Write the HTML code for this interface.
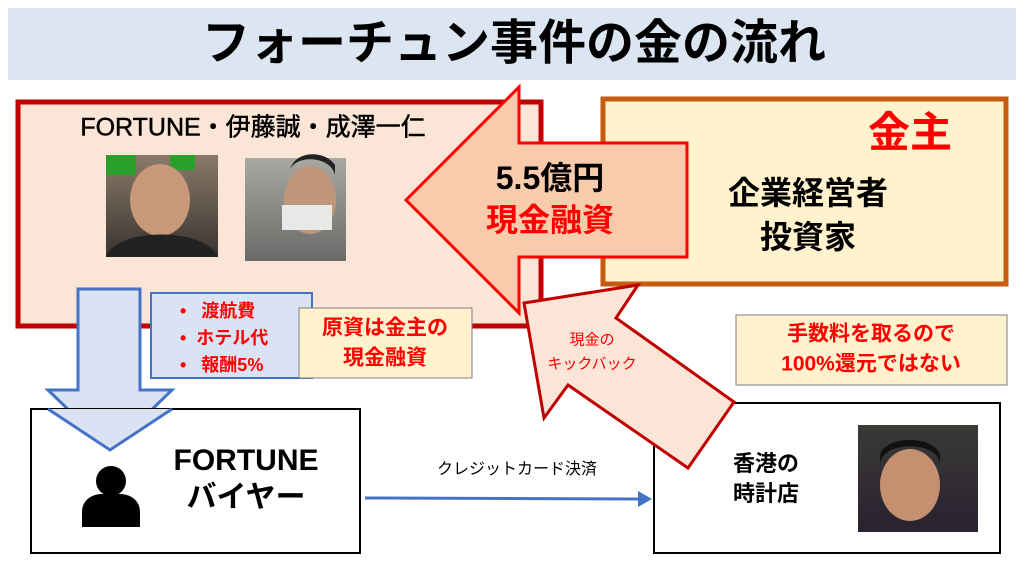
<!DOCTYPE html>
<html><head><meta charset="utf-8"><style>
body{margin:0;width:1024px;height:576px;position:relative;background:#fff;overflow:hidden;font-family:"Liberation Sans","Noto Sans CJK JP",sans-serif;}
.t{position:absolute;white-space:nowrap;line-height:1;font-weight:bold;}
.c{transform:translate(-50%,-50%);}
</style></head><body>
<svg width="1024" height="576" style="position:absolute;left:0;top:0">
<defs>
<linearGradient id="p1" x1="0" y1="0" x2="0" y2="1"><stop offset="0" stop-color="#8a7a68"/><stop offset="1" stop-color="#3a3430"/></linearGradient>
<linearGradient id="p2" x1="0" y1="0" x2="0" y2="1"><stop offset="0" stop-color="#a8a8a4"/><stop offset="1" stop-color="#6a6a68"/></linearGradient>
<linearGradient id="p3" x1="0" y1="0" x2="0" y2="1"><stop offset="0" stop-color="#3a3a36"/><stop offset="1" stop-color="#2a2230"/></linearGradient>
</defs>
<rect x="8" y="8" width="1008" height="72" fill="#dce6f2"/>
<rect x="18" y="102" width="523" height="224" fill="#fbe5d6" stroke="#c00000" stroke-width="5"/>
<rect x="603" y="99" width="403" height="185" fill="#fff2cc" stroke="#c55a11" stroke-width="5"/>
<rect x="106" y="155" width="112" height="102" fill="url(#p1)"/>
<path d="M106 155h30v20h-30zM170 155h25v15h-25z" fill="#2aa02a"/>
<ellipse cx="160" cy="200" rx="30" ry="36" fill="#c89878"/>
<path d="M106 257c10-30 100-30 112 0z" fill="#222"/>
<rect x="245" y="158" width="101" height="103" fill="url(#p2)"/>
<ellipse cx="310" cy="200" rx="26" ry="34" fill="#c0967a"/>
<path d="M282 205h50v25h-50z" fill="#e8e8e6"/>
<path d="M290 170c5-15 40-15 45 5v-10c-10-15-40-15-45 5z" fill="#222"/>
<polygon points="406,200 519,87 519,143 687,143 687,257 519,257 519,313" fill="#f8cbad" stroke="#ff0000" stroke-width="3"/>
<polygon points="78,289 140,289 140,390 172,390 110,450 48,390 78,390" fill="#dae3f3" stroke="#4472c4" stroke-width="3"/>
<rect x="151" y="293" width="161" height="85" fill="#dae3f3" stroke="#4472c4" stroke-width="2"/>
<rect x="299" y="308" width="173" height="70" fill="#fff2cc" stroke="#7f7f7f" stroke-width="1"/>
<rect x="31" y="409" width="329" height="144" fill="#fff" stroke="#000" stroke-width="2"/>
<polygon points="48,409 172,409 110,450" fill="#dae3f3"/>
<polyline points="48,409 110,450 172,409" fill="none" stroke="#4472c4" stroke-width="3"/>
<circle cx="111" cy="481" r="15" fill="#000"/>
<path d="M82 527v-15c0-12 10-18 20-18h18c10 0 20 6 20 18v15z" fill="#000"/>
<rect x="654" y="403" width="346" height="150" fill="#fff" stroke="#000" stroke-width="2"/>
<rect x="858" y="425" width="120" height="107" fill="url(#p3)"/>
<ellipse cx="910" cy="485" rx="30" ry="36" fill="#c49070"/>
<path d="M880 465c0-25 60-25 60 0v-10c-5-20-55-20-60 0z" fill="#111"/>
<rect x="736" y="315" width="271" height="70" fill="#fff2cc" stroke="#7f7f7f" stroke-width="1"/>
<polygon points="524,303 638,285 616,318 734,402 688,468 568,385 544,418" fill="#fbe5d6" stroke="#c00000" stroke-width="3"/>
<line x1="365" y1="498" x2="640" y2="499" stroke="#4472c4" stroke-width="3"/>
<polygon points="638,491 652,499 638,507" fill="#4472c4"/>
</svg>
<div class="t c" style="left:514px;top:44px;font-size:48px;color:#000">フォーチュン事件の金の流れ</div>
<div class="t c" style="left:253px;top:128px;font-size:25px;color:#000;font-weight:normal;-webkit-text-stroke:0.5px #000">FORTUNE・伊藤誠・成澤一仁</div>
<div class="t c" style="left:910px;top:133px;font-size:42px;color:#ff0000">金主</div>
<div class="t c" style="left:808px;top:193px;font-size:32px;color:#000">企業経営者</div>
<div class="t c" style="left:808px;top:237px;font-size:32px;color:#000">投資家</div>
<div class="t c" style="left:550px;top:178px;font-size:32px;color:#000">5.5億円</div>
<div class="t c" style="left:550px;top:220px;font-size:32px;color:#ff0000">現金融資</div>
<div class="t" style="left:180px;top:298px;font-size:18px;color:#ff0000;line-height:27px">•&nbsp;&nbsp;&nbsp;渡航費<br>•&nbsp;&nbsp;ホテル代<br>•&nbsp;&nbsp;&nbsp;報酬5%</div>
<div class="t c" style="left:385px;top:328px;font-size:21px;color:#ff0000">原資は金主の</div>
<div class="t c" style="left:385px;top:358px;font-size:21px;color:#ff0000">現金融資</div>
<div class="t c" style="left:592px;top:340px;font-size:15px;color:#ff0000;font-weight:normal">現金の</div>
<div class="t c" style="left:592px;top:364px;font-size:15px;color:#ff0000;font-weight:normal">キックバック</div>
<div class="t c" style="left:871px;top:334px;font-size:21px;color:#ff0000">手数料を取るので</div>
<div class="t c" style="left:871px;top:364px;font-size:21px;color:#ff0000">100%還元ではない</div>
<div class="t c" style="left:246px;top:461px;font-size:30px;color:#000">FORTUNE</div>
<div class="t c" style="left:246px;top:498px;font-size:30px;color:#000">バイヤー</div>
<div class="t c" style="left:517px;top:470px;font-size:16px;color:#000;font-weight:normal">クレジットカード決済</div>
<div class="t c" style="left:766px;top:464px;font-size:22px;color:#000">香港の</div>
<div class="t c" style="left:766px;top:494px;font-size:22px;color:#000">時計店</div>
</body></html>
